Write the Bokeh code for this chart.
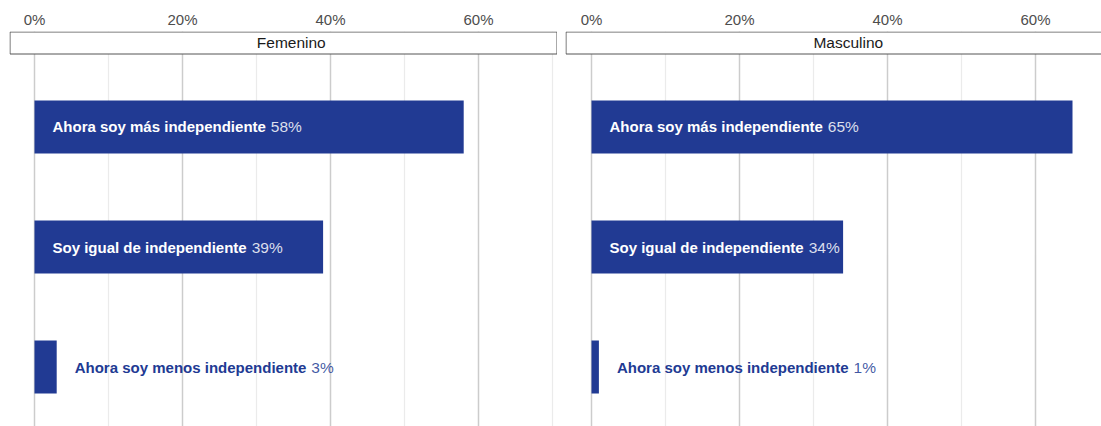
from bokeh.plotting import figure
from bokeh.layouts import row
from bokeh.models import Range1d, FixedTicker, ColumnDataSource
from bokeh.core.properties import value
from bokeh.embed import file_html
from bokeh.resources import INLINE

# ---------------- data ----------------
categories = ["Ahora soy más independiente",
              "Soy igual de independiente",
              "Ahora soy menos independiente"]
femenino = [58, 39, 3]
masculino = [65, 34, 1]
panels = ["Femenino", "Masculino"]
tick_values = [0, 20, 40, 60]
minor_values = [10, 30, 50, 70]
tick_labels = ["0%", "20%", "40%", "60%"]

# ---------------- style ----------------
BAR = "#213a93"
FONT = "Liberation Sans"
FS = 15
PX_PER_PCT = 7.4

# Arial / Liberation Sans advance widths (per 1000 em)
BOLD_W = {' ': 278, 'A': 722, 'S': 667, 'a': 556, 'á': 556, 'd': 611, 'e': 556,
          'g': 611, 'h': 611, 'i': 278, 'l': 278, 'm': 889, 'n': 611, 'o': 611,
          'p': 611, 'r': 389, 's': 556, 't': 333, 'u': 611, 'y': 556}


def text_width(s, table, fs):
    return sum(table.get(c, 556) for c in s) * fs / 1000.0


# y: category i at position i (top to bottom); 1 unit = 120px
Y_TOP = -0.7958
Y_BOT = 2.4958
STRIP_TOP = -0.7917
STRIP_BOT = -0.6083
STRIP_X = 34.7


def make_panel(title, values, width, border_left, x_lo, x_hi, right_border):
    p = figure(width=width, height=426, output_backend="svg", toolbar_location=None,
               tools="", x_range=Range1d(x_lo, x_hi), y_range=Range1d(Y_BOT, Y_TOP),
               x_axis_location="above", y_axis_location=None,
               min_border_left=border_left, min_border_right=0,
               min_border_top=31, min_border_bottom=0,
               outline_line_color=None, background_fill_color="white",
               border_fill_color="white")

    ax = p.xaxis[0]
    ax.ticker = FixedTicker(ticks=tick_values, minor_ticks=minor_values)
    ax.major_label_overrides = {t: l for t, l in zip(tick_values, tick_labels)}
    ax.axis_line_color = None
    ax.major_tick_line_color = None
    ax.minor_tick_line_color = None
    ax.major_tick_out = 0
    ax.major_tick_in = 0
    ax.major_label_standoff = 0
    ax.major_label_text_font = FONT
    ax.major_label_text_font_size = f"{FS}px"
    ax.major_label_text_color = "#4d4d4d"

    p.xgrid.ticker = FixedTicker(ticks=tick_values, minor_ticks=minor_values)
    p.xgrid.grid_line_color = "#cccccc"
    p.xgrid.grid_line_width = 1.5
    p.xgrid.minor_grid_line_color = "#ebebeb"
    p.xgrid.minor_grid_line_width = 1.2
    p.ygrid.visible = False

    ypos = list(range(len(categories)))
    inside = [v > 10 for v in values]
    lab_x = [0 if ins else v for ins, v in zip(inside, values)]
    lab_col = ["white" if ins else BAR for ins in inside]
    val_txt = [f"{v}%" for v in values]
    val_off = [18 + text_width(c, BOLD_W, FS) + 0.33 * FS for c in categories]

    src = ColumnDataSource(dict(y=ypos, v=values, cat=categories, lx=lab_x,
                                col=lab_col, vt=val_txt, vo=val_off))

    p.hbar(y="y", left=0, right="v", height=0.44, source=src,
           fill_color=BAR, line_color=None)

    p.text(x="lx", y="y", text="cat", source=src, x_offset=18,
           text_align="left", text_baseline="middle", text_color="col",
           text_font=value(FONT), text_font_size=f"{FS}px", text_font_style="bold")
    p.text(x="lx", y="y", text="vt", source=src, x_offset="vo",
           text_align="left", text_baseline="middle", text_color="col",
           text_alpha=0.85, text_font=value(FONT), text_font_size="15.5px")

    # facet strip
    half = 0.5 / PX_PER_PCT
    ql = x_lo + half
    qr = (x_hi - half) if right_border else (x_hi + 5)
    p.quad(left=[ql], right=[qr], top=[STRIP_TOP], bottom=[STRIP_BOT],
           fill_color="white", line_color="#555555", line_width=1)
    p.text(x=[STRIP_X], y=[(STRIP_TOP + STRIP_BOT) / 2], text=[title],
           text_align="center", text_baseline="middle", text_color="#1a1a1a",
           text_font=value(FONT), text_font_size="15.5px")
    return p


# left panel frame 9..557 px, 0% at 34 px; right panel frame 565..1101 px, 0% at 591 px
p1 = make_panel(panels[0], femenino, 557, 9, -25 / PX_PER_PCT, 523 / PX_PER_PCT, True)
p2 = make_panel(panels[1], masculino, 544, 8, -26 / PX_PER_PCT, 510 / PX_PER_PCT, False)

layout = row(p1, p2, spacing=0)
open("out.html", "w").write(file_html(layout, INLINE))
